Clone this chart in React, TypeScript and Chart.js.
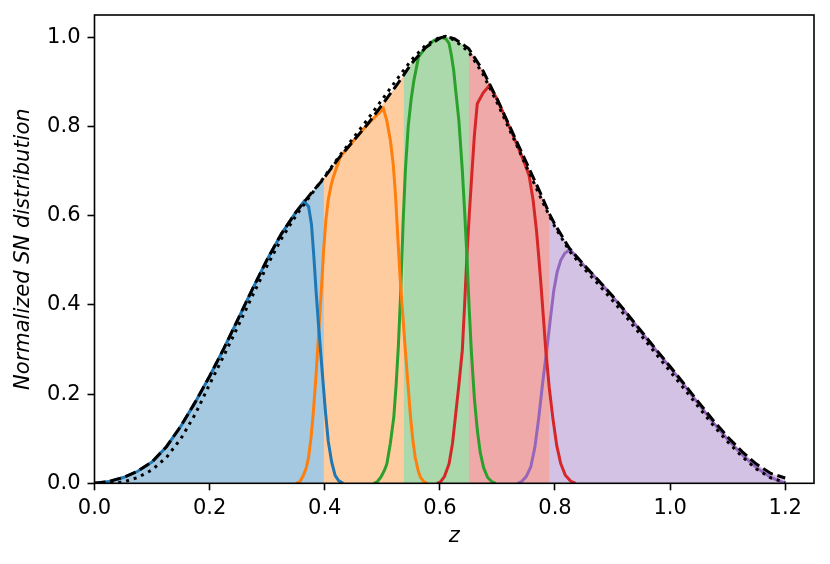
import React, { useEffect, useRef } from "react";
import { Chart, registerables } from "chart.js";

Chart.register(...registerables);

// ---- data ----
const zTotal = [0, 0.025, 0.05, 0.075, 0.1, 0.125, 0.15, 0.175, 0.2, 0.225, 0.25, 0.275, 0.3, 0.325, 0.35, 0.375, 0.398, 0.425, 0.45, 0.475, 0.5, 0.525, 0.537, 0.55, 0.575, 0.6, 0.61, 0.625, 0.65, 0.675, 0.7, 0.725, 0.75, 0.775, 0.79, 0.8, 0.825, 0.85, 0.875, 0.9, 0.925, 0.95, 0.975, 1.0, 1.025, 1.05, 1.075, 1.1, 1.125, 1.15, 1.175, 1.2];
const totalY = [0, 0.004, 0.013, 0.027, 0.048, 0.082, 0.128, 0.182, 0.24, 0.303, 0.37, 0.437, 0.502, 0.56, 0.608, 0.648, 0.683, 0.73, 0.768, 0.806, 0.849, 0.893, 0.915, 0.94, 0.977, 0.998, 1.002, 0.997, 0.975, 0.925, 0.86, 0.79, 0.72, 0.65, 0.605, 0.58, 0.527, 0.49, 0.456, 0.42, 0.381, 0.341, 0.301, 0.262, 0.222, 0.181, 0.141, 0.104, 0.071, 0.043, 0.022, 0.012];
const fitY = [0, 0, 0.003, 0.013, 0.03, 0.058, 0.1, 0.155, 0.222, 0.287, 0.354, 0.422, 0.488, 0.549, 0.6, 0.645, 0.685, 0.733, 0.775, 0.817, 0.861, 0.905, 0.926, 0.948, 0.982, 1.0, 1.002, 0.994, 0.968, 0.917, 0.852, 0.782, 0.711, 0.641, 0.6, 0.575, 0.521, 0.482, 0.447, 0.41, 0.371, 0.331, 0.291, 0.251, 0.211, 0.17, 0.13, 0.093, 0.06, 0.032, 0.012, 0.002];

const binEdges = [0, 0.398, 0.537, 0.65, 0.79, 1.2];

const blueZ = [0, 0.025, 0.05, 0.075, 0.1, 0.125, 0.15, 0.175, 0.2, 0.225, 0.25, 0.275, 0.3, 0.325, 0.35, 0.364, 0.372, 0.377, 0.381, 0.385, 0.389, 0.395, 0.401, 0.406, 0.412, 0.418, 0.424, 0.432];
const blueY = [0, 0.004, 0.013, 0.027, 0.048, 0.082, 0.128, 0.182, 0.24, 0.303, 0.37, 0.437, 0.502, 0.56, 0.608, 0.632, 0.62, 0.58, 0.51, 0.43, 0.358, 0.26, 0.164, 0.095, 0.048, 0.018, 0.006, 0];

const orangeZ = [0.35, 0.357, 0.363, 0.368, 0.372, 0.376, 0.38, 0.385, 0.389, 0.394, 0.398, 0.402, 0.406, 0.411, 0.415, 0.427, 0.45, 0.475, 0.502, 0.508, 0.514, 0.519, 0.523, 0.527, 0.531, 0.536, 0.54, 0.545, 0.549, 0.553, 0.557, 0.562, 0.566, 0.572, 0.578];
const orangeY = [0, 0.004, 0.018, 0.035, 0.059, 0.1, 0.156, 0.245, 0.328, 0.43, 0.522, 0.59, 0.635, 0.668, 0.687, 0.732, 0.768, 0.806, 0.84, 0.812, 0.769, 0.715, 0.645, 0.55, 0.46, 0.37, 0.298, 0.215, 0.149, 0.098, 0.059, 0.03, 0.014, 0.004, 0];

const greenZ = [0.485, 0.491, 0.498, 0.504, 0.508, 0.514, 0.52, 0.524, 0.528, 0.532, 0.536, 0.54, 0.545, 0.55, 0.555, 0.563, 0.575, 0.59, 0.604, 0.611, 0.616, 0.62, 0.624, 0.628, 0.633, 0.639, 0.643, 0.647, 0.651, 0.655, 0.66, 0.665, 0.67, 0.676, 0.683, 0.691, 0.697];
const greenY = [0, 0.003, 0.015, 0.03, 0.044, 0.09, 0.149, 0.22, 0.31, 0.43, 0.58, 0.7, 0.8, 0.86, 0.904, 0.956, 0.977, 0.993, 1.0, 0.996, 0.986, 0.96, 0.926, 0.875, 0.814, 0.702, 0.61, 0.51, 0.39, 0.29, 0.19, 0.12, 0.07, 0.035, 0.013, 0.003, 0];

const redZ = [0.595, 0.601, 0.608, 0.616, 0.622, 0.627, 0.633, 0.639, 0.643, 0.647, 0.651, 0.656, 0.66, 0.665, 0.675, 0.686, 0.7, 0.725, 0.745, 0.755, 0.762, 0.768, 0.772, 0.776, 0.78, 0.784, 0.79, 0.796, 0.803, 0.81, 0.818, 0.827, 0.836];
const redY = [0, 0.003, 0.015, 0.044, 0.09, 0.149, 0.22, 0.298, 0.4, 0.51, 0.6, 0.702, 0.78, 0.851, 0.875, 0.892, 0.86, 0.787, 0.725, 0.69, 0.635, 0.565, 0.505, 0.44, 0.37, 0.298, 0.215, 0.149, 0.085, 0.044, 0.018, 0.005, 0];

const purpleZ = [0.735, 0.742, 0.75, 0.758, 0.765, 0.772, 0.779, 0.787, 0.793, 0.798, 0.804, 0.81, 0.817, 0.826, 0.85, 0.875, 0.9, 0.925, 0.95, 0.975, 1.0, 1.025, 1.05, 1.075, 1.1, 1.125, 1.15, 1.175, 1.2];
const purpleY = [0, 0.004, 0.015, 0.037, 0.08, 0.149, 0.23, 0.313, 0.38, 0.433, 0.475, 0.5, 0.516, 0.524, 0.489, 0.455, 0.419, 0.38, 0.339, 0.299, 0.26, 0.219, 0.177, 0.136, 0.098, 0.064, 0.035, 0.013, 0];

const xTicks = [0, 0.2, 0.4, 0.6, 0.8, 1.0, 1.2];
const yTicks = [0, 0.2, 0.4, 0.6, 0.8, 1.0];

// tab10 line colours and their 40% tints on white
const lineColors = ["#1f77b4", "#ff7f0e", "#2ca02c", "#d62728", "#9467bd"];
const fillColors = ["rgb(165,201,225)", "rgb(255,204,159)", "rgb(171,217,171)", "rgb(239,169,169)", "rgb(212,194,229)"];

// ---- helpers ----
const pts = (zs: number[], ys: number[]) => zs.map((z, i) => ({ x: z, y: ys[i] }));

const FONT = "'DejaVu Sans', sans-serif";
const FS = 21;

const framePlugin = {
  id: "frame",
  afterDatasetsDraw(chart: any) {
    const { ctx, chartArea } = chart;
    ctx.save();
    ctx.strokeStyle = "#000";
    ctx.lineWidth = 1.6;
    ctx.strokeRect(chartArea.left, chartArea.top, chartArea.right - chartArea.left, chartArea.bottom - chartArea.top);
    ctx.restore();
  },
};

export default function App() {
  const ref = useRef<HTMLCanvasElement | null>(null);

  useEffect(() => {
    document.body.style.margin = "0";
    const canvas = ref.current;
    if (!canvas) return;

    const totalPts = pts(zTotal, totalY);
    const fillSets = binEdges.slice(0, -1).map((a, i) => {
      const b = binEdges[i + 1];
      const inside = totalPts.filter((p) => p.x >= a - 1e-9 && p.x <= b + 1e-9);
      // overlap by one grid point so the next (later drawn) band hides the seam
      const next = totalPts.find((p) => p.x > b + 1e-9);
      const data = next ? [...inside, next] : inside;
      return {
        data,
        borderWidth: 0,
        borderColor: "rgba(0,0,0,0)",
        backgroundColor: fillColors[i],
        fill: "origin",
        pointRadius: 0,
        order: 10 - i,
      };
    });

    const bins: [number[], number[]][] = [
      [blueZ, blueY],
      [orangeZ, orangeY],
      [greenZ, greenY],
      [redZ, redY],
      [purpleZ, purpleY],
    ];
    const lineSets = bins.map(([zs, ys], i) => ({
      data: pts(zs, ys),
      borderColor: lineColors[i],
      borderWidth: 3,
      fill: false,
      pointRadius: 0,
      order: 2,
    }));

    const chart = new Chart(canvas, {
      type: "line",
      data: {
        datasets: [
          {
            data: totalPts,
            borderColor: "#000",
            borderWidth: 3,
            borderDash: [11.1, 4.8],
            fill: false,
            pointRadius: 0,
            order: 0,
          },
          {
            data: pts(zTotal, fitY),
            borderColor: "#000",
            borderWidth: 3,
            borderDash: [3, 4.95],
            fill: false,
            pointRadius: 0,
            order: 1,
          },
          ...lineSets,
          ...fillSets,
        ] as any,
      },
      options: {
        responsive: false,
        animation: false,
        devicePixelRatio: 1,
        events: [],
        layout: { padding: { top: 15, right: 16, left: 0, bottom: 0 } },
        plugins: {
          legend: { display: false },
          tooltip: { enabled: false },
        },
        elements: { line: { tension: 0 } },
        scales: {
          x: {
            type: "linear",
            min: 0,
            max: 1.25,
            afterFit: (s: any) => {
              s.height = 80.7;
              s.paddingLeft = 0;
              s.paddingRight = 0;
            },
            afterBuildTicks: (s: any) => {
              s.ticks = xTicks.map((v) => ({ value: v }));
            },
            ticks: {
              color: "#000",
              font: { family: FONT, size: FS },
              padding: 6,
              maxRotation: 0,
              callback: (v: any) => Number(v).toFixed(1),
            },
            grid: {
              drawOnChartArea: false,
              drawTicks: true,
              tickLength: 7,
              tickColor: "#000",
              tickWidth: 1.6,
            },
            border: { display: false },
            title: {
              display: true,
              text: "z",
              color: "#000",
              font: { family: FONT, size: FS, style: "italic" },
              padding: { top: 0, bottom: 14.4 },
            },
          },
          y: {
            type: "linear",
            min: 0,
            max: 1.05,
            afterFit: (s: any) => {
              s.width = 94.5;
              s.paddingTop = 0;
              s.paddingBottom = 0;
            },
            afterBuildTicks: (s: any) => {
              s.ticks = yTicks.map((v) => ({ value: v }));
            },
            ticks: {
              color: "#000",
              font: { family: FONT, size: FS },
              padding: 7,
              callback: (v: any) => Number(v).toFixed(1),
            },
            grid: {
              drawOnChartArea: false,
              drawTicks: true,
              tickLength: 7,
              tickColor: "#000",
              tickWidth: 1.6,
            },
            border: { display: false },
            title: {
              display: true,
              text: "Normalized SN distribution",
              color: "#000",
              font: { family: FONT, size: FS, style: "italic" },
              padding: { top: 11.4, bottom: 0 },
            },
          },
        },
      } as any,
      plugins: [framePlugin],
    });

    return () => {
      chart.destroy();
    };
  }, []);

  return (
    <div style={{ width: 830, height: 564 }}>
      <canvas ref={ref} width={830} height={564} style={{ display: "block" }} />
    </div>
  );
}
